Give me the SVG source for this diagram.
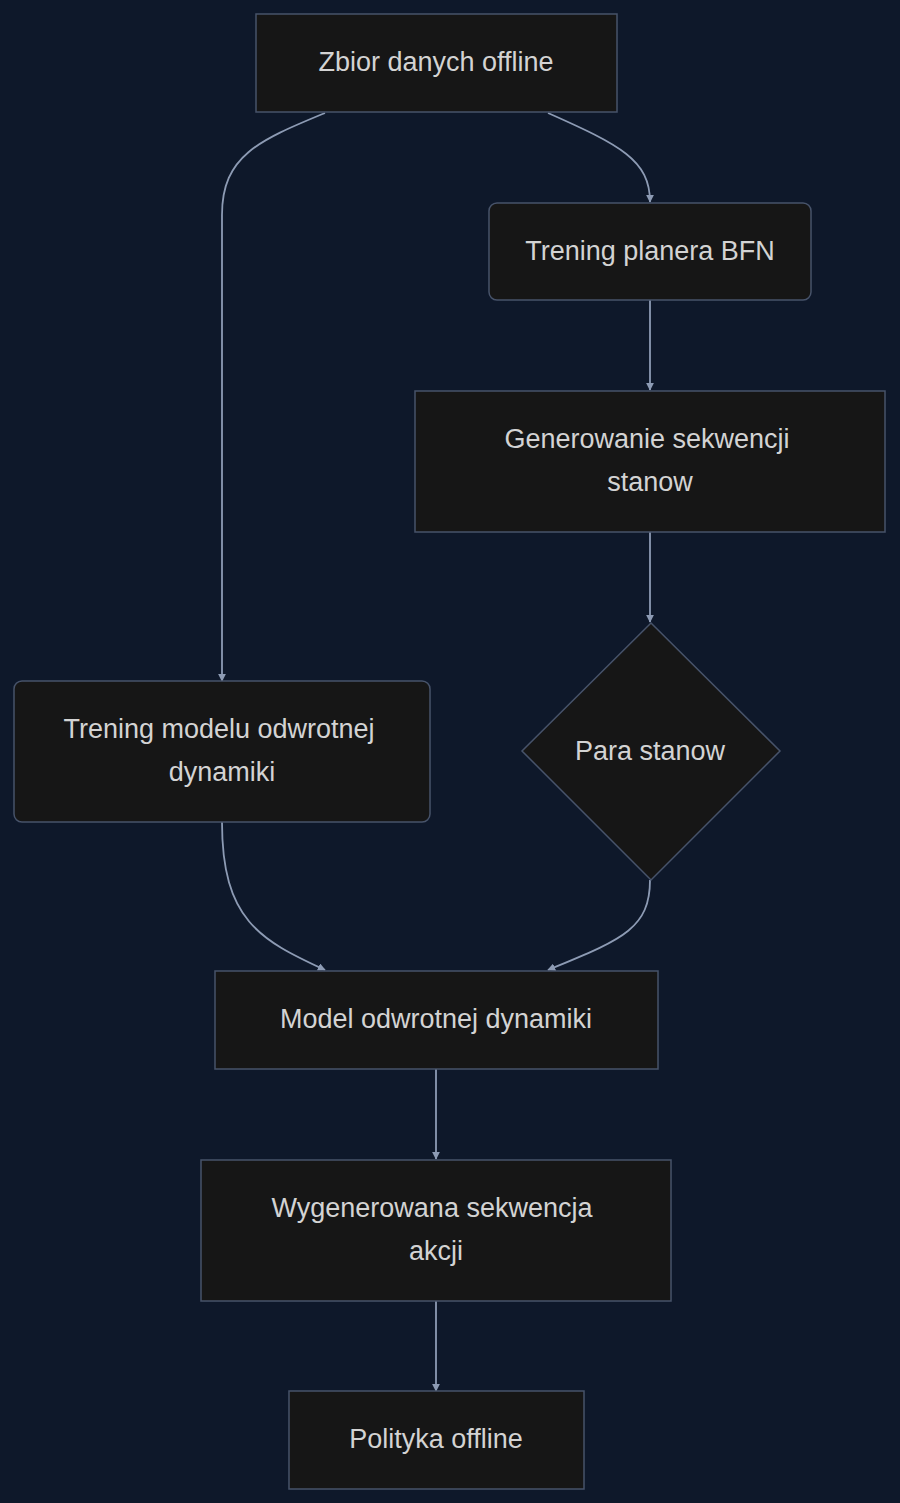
<svg xmlns="http://www.w3.org/2000/svg" width="900" height="1503" viewBox="0 0 900 1503">
<style>
.n{fill:#161616;stroke:#47536a;stroke-width:1.5}
.t{fill:#d3d3d3;font-family:"Liberation Sans",Arial,sans-serif;font-size:27px;text-anchor:middle}
.e{fill:none;stroke:#8d9bb4;stroke-width:1.8}
</style>
<defs><marker id="a" viewBox="0 0 10 10" refX="9" refY="5" markerWidth="8" markerHeight="8" orient="auto-start-reverse" markerUnits="userSpaceOnUse"><path d="M0,0L10,5L0,10z" fill="#8d9bb4"/></marker></defs>
<rect width="900" height="1503" fill="#0e182a"/>
<g id="connectors">
<path class="e" d="M325,113 C260,140 222,155 222,215 L222,681" marker-end="url(#a)"/>
<path class="e" d="M548,113 C620,145 650,160 650,202" marker-end="url(#a)"/>
<path class="e" d="M650,300 L650,390" marker-end="url(#a)"/>
<path class="e" d="M650,532 L650,622" marker-end="url(#a)"/>
<path class="e" d="M222,822 C222,920 260,940 325,970" marker-end="url(#a)"/>
<path class="e" d="M650,880 C650,930 620,940 548,970" marker-end="url(#a)"/>
<path class="e" d="M436,1069 L436,1159" marker-end="url(#a)"/>
<path class="e" d="M436,1301 L436,1391" marker-end="url(#a)"/>
</g>
<g id="n1"><rect class="n" x="256" y="14" width="361" height="98"/><text class="t" x="436" y="71">Zbior danych offline</text></g>
<g id="n2"><rect class="n" x="489" y="203" width="322" height="97" rx="8"/><text class="t" x="650" y="260">Trening planera BFN</text></g>
<g id="n3"><rect class="n" x="415" y="391" width="470" height="141"/><text class="t" x="647" y="448">Generowanie sekwencji</text><text class="t" x="650" y="491">stanow</text></g>
<g id="n4"><path class="n" d="M651,623 L780,751 L651,880 L522,751z"/><text class="t" x="650" y="760">Para stanow</text></g>
<g id="n5"><rect class="n" x="14" y="681" width="416" height="141" rx="8"/><text class="t" x="219" y="738">Trening modelu odwrotnej</text><text class="t" x="222" y="781">dynamiki</text></g>
<g id="n6"><rect class="n" x="215" y="971" width="443" height="98"/><text class="t" x="436" y="1028">Model odwrotnej dynamiki</text></g>
<g id="n7"><rect class="n" x="201" y="1160" width="470" height="141"/><text class="t" x="432" y="1217">Wygenerowana sekwencja</text><text class="t" x="436" y="1260">akcji</text></g>
<g id="n8"><rect class="n" x="289" y="1391" width="295" height="98"/><text class="t" x="436" y="1448">Polityka offline</text></g>
</svg>
